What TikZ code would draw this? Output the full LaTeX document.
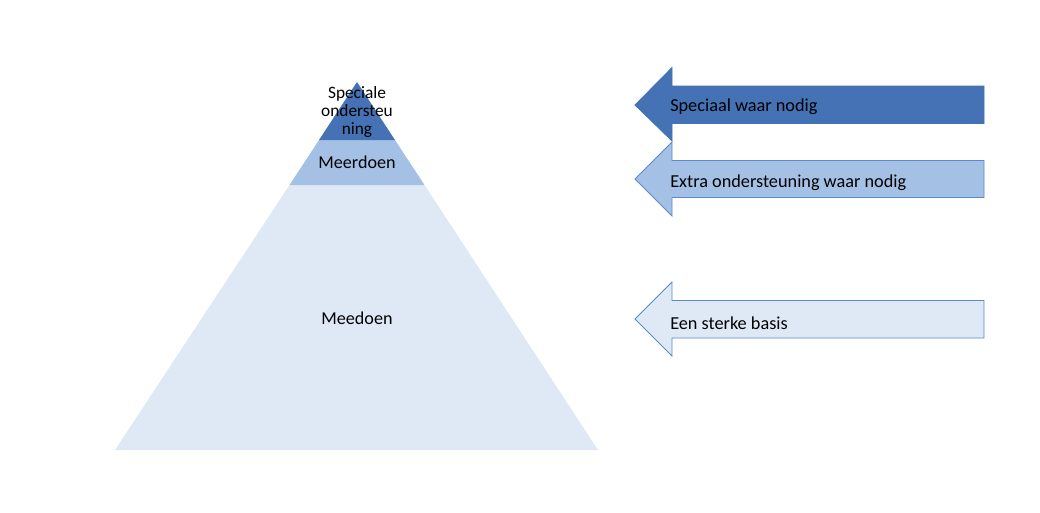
\documentclass[tikz,border=0pt]{standalone}
\usepackage{fontspec}
\setmainfont{Carlito}
\definecolor{darkb}{RGB}{68,114,180}
\definecolor{midb}{RGB}{164,193,229}
\definecolor{lightb}{RGB}{223,232,245}
\definecolor{edgeb}{RGB}{91,137,205}
\begin{document}
\begin{tikzpicture}[x=0.75pt,y=-0.75pt,
  lbl/.style={font=\fontsize{13.6}{16}\selectfont,text=black,inner sep=0pt},
  arrowl/.style={font=\fontsize{13.7}{16}\selectfont,text=black,inner sep=0pt,anchor=west},
  bigarrow/.style={draw=edgeb,line width=0.6pt,line join=miter}]
\useasboundingbox (0,0) rectangle (1040,512);
% pyramid
\fill[lightb] (115,450) -- (289.5,185) -- (424.5,185) -- (598,450) -- cycle;
\fill[midb] (289.5,185) -- (319,140) -- (395,140) -- (424.5,185) -- cycle;
\fill[darkb] (319,140) -- (357,82) -- (395,140) -- cycle;
\node[lbl,align=center,font=\fontsize{13}{13.5}\selectfont] (top) at (357,112) {Speciale\\ondersteu\\ning};
\node[lbl] (mid) at (357,162) {Meerdoen};
\node[lbl] (bot) at (357,318) {Meedoen};
% arrows
\path[bigarrow,fill=darkb,draw=darkb] (635,105) -- (672,67.5) -- (672,86) -- (984,86) -- (984,123.5) -- (672,123.5) -- (672,141) -- cycle;
\node[arrowl] (a1) at (670,107) {Speciaal waar nodig};
\path[bigarrow,fill=midb] (635,179) -- (672,142) -- (672,160.5) -- (984,160.5) -- (984,197.5) -- (672,197.5) -- (672,216) -- cycle;
\node[arrowl] (a2) at (670,183) {Extra ondersteuning waar nodig};
\path[bigarrow,fill=lightb] (635,319) -- (672,282) -- (672,300.5) -- (984,300.5) -- (984,338) -- (672,338) -- (672,356) -- cycle;
\node[arrowl] (a3) at (670,323) {Een sterke basis};
\end{tikzpicture}
\end{document}
